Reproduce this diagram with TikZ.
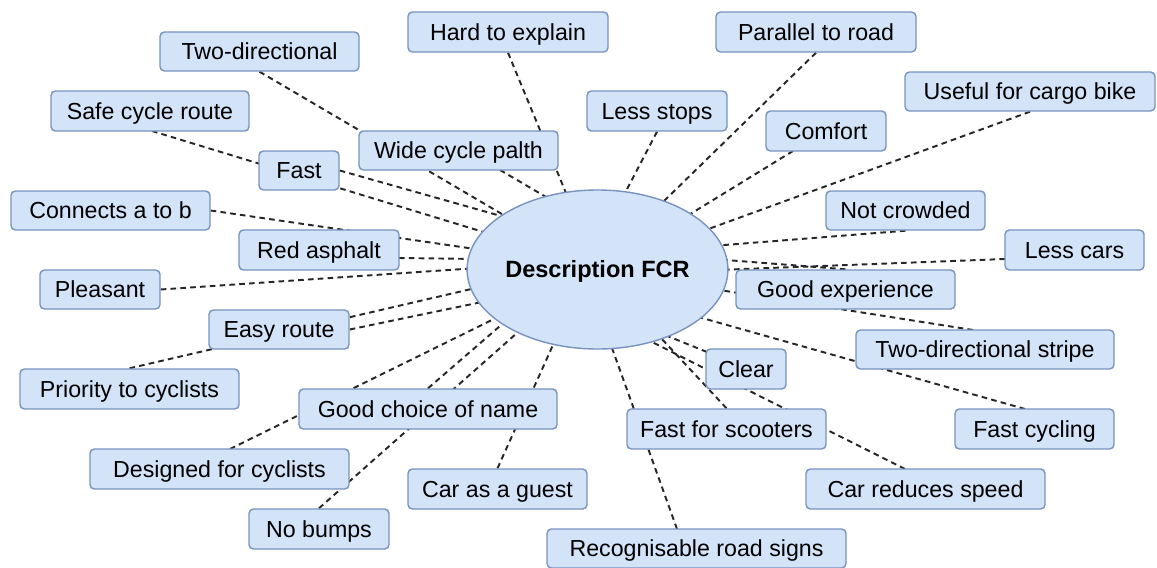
\documentclass[tikz,border=0pt]{standalone}
\usepackage{fontspec}
\setmainfont{Liberation Sans}
\usetikzlibrary{calc,shapes.geometric}
\definecolor{boxfill}{HTML}{D3E3F8}
\definecolor{boxline}{HTML}{7893C0}
\definecolor{linkc}{HTML}{262626}
\pgfdeclarelayer{bg}
\pgfsetlayers{bg,main}
\newcommand\bx[6]{\node[box, minimum width={(#4-#2)*0.02cm}, minimum height={(#5-#3)*0.02cm}] (#1) at ({(#2+#4)/2},{(#3+#5)/2}) {#6};}
\begin{document}
\begin{tikzpicture}[x=0.02cm,y=-0.02cm,
  box/.style={draw=boxline, fill=boxfill, line width=0.8pt, rounded corners=2.5pt,
    font=\fontsize{13.2}{15}\selectfont, text=black, inner sep=0pt,
    text height=11pt, text depth=1.55pt},
  hub/.style={ellipse, draw=boxline, fill=boxfill, line width=0.8pt, inner sep=0pt,
    font=\bfseries\fontsize{13.4}{15}\selectfont, text=black,
    text height=11pt, text depth=1.5pt},
  link/.style={draw=linkc, line width=1.1pt, dash pattern=on 3.2pt off 2.4pt}]
\useasboundingbox (0,0) rectangle (1157,568);
\node[hub, minimum width=239*0.02cm, minimum height=159*0.02cm] (fcr) at (597.5,269.5) {Description FCR};
\bx{two}{160}{32}{359}{71}{Two-directional}
\bx{safe}{51}{91}{249}{131}{Safe cycle route}
\bx{fast}{259}{151}{339}{190}{Fast}
\bx{connects}{11}{191}{210}{230}{Connects a to b}
\bx{red}{239}{230}{399}{270}{Red asphalt}
\bx{pleasant}{40}{270}{160}{309}{Pleasant}
\bx{easy}{209}{310}{349}{349}{Easy route}
\bx{priority}{20}{369}{239}{409}{Priority to cyclists}
\bx{goodchoice}{299}{389}{557}{429}{Good choice of name}
\bx{designed}{90}{449}{349}{489}{Designed for cyclists}
\bx{nobumps}{249}{509}{389}{549}{No bumps}
\bx{guest}{408}{469}{587}{509}{Car as a guest}
\bx{recog}{547}{529}{846}{568}{Recognisable road signs}
\bx{scooters}{627}{409}{826}{449}{Fast for scooters}
\bx{clear}{706}{349}{786}{389}{Clear}
\bx{carreduce}{806}{469}{1045}{509}{Car reduces speed}
\bx{fastcycling}{955}{409}{1114}{449}{Fast cycling}
\bx{stripe}{856}{330}{1114}{369}{Two-directional stripe}
\bx{goodexp}{736}{270}{955}{309}{Good experience}
\bx{lesscars}{1005}{230}{1144}{270}{Less cars}
\bx{notcrowded}{826}{191}{985}{230}{Not crowded}
\bx{cargo}{905}{72}{1155}{111}{Useful for cargo bike}
\bx{comfort}{766}{111}{886}{151}{Comfort}
\bx{parallel}{716}{12}{916}{52}{Parallel to road}
\bx{lessstops}{587}{91}{727}{131}{Less stops}
\bx{hard}{408}{12}{608}{52}{Hard to explain}
\bx{wide}{359}{131}{558}{170}{Wide cycle palth}
\begin{pgfonlayer}{bg}
\draw[link] (two.south) -- ($(fcr)+(-90.5,-52.5)$);
\draw[link] ($(safe)+(2,20)$) -- ($(fcr)+(-107.5,-35.5)$);
\draw[link] (fast.east) -- ($(fcr)+(-89.5,-51.5)$);
\draw[link] (connects.east) -- ($(fcr)+(-115.5,-19.5)$);
\draw[link] ($(red)+(80,8)$) -- ($(fcr)+(-118.5,-10.5)$);
\draw[link] (pleasant.east) -- ($(fcr)+(-119.5,-1.5)$);
\draw[link] (easy.east) -- ($(fcr)+(-115.5,32.5)$);
\draw[link] (priority.north) -- ($(fcr)+(-117.5,17.5)$);
\draw[link] (goodchoice.north) -- ($(fcr)+(-97.5,56.5)$);
\draw[link] ($(designed)+(10.5,-20)$) -- ($(fcr)+(-97.5,46.5)$);
\draw[link] (nobumps.north) -- ($(fcr)+(-80.5,63.5)$);
\draw[link] (guest.north) -- ($(fcr)+(-44.5,75.5)$);
\draw[link] ($(recog)+(-19.5,-19.5)$) -- ($(fcr)+(14.5,78.5)$);
\draw[link] (scooters.north) -- ($(fcr)+(62.5,67.5)$);
\draw[link] ($(clear)+(-39,-17)$) -- ($(fcr)+(67.5,65.5)$);
\draw[link] ($(carreduce)+(-20.5,-20)$) -- ($(fcr)+(52.5,71.5)$);
\draw[link] ($(fastcycling)+(-9.5,-20)$) -- ($(fcr)+(97.5,46.5)$);
\draw[link] ($(stripe)+(-12,-19.5)$) -- ($(fcr)+(115.5,19.5)$);
\draw[link] (goodexp.north) -- ($(fcr)+(115.5,-10.5)$);
\draw[link] ($(lesscars)+(-69.5,9)$) -- ($(fcr)+(119.5,0.5)$);
\draw[link] (notcrowded.south) -- ($(fcr)+(114.5,-23.5)$);
\draw[link] (cargo.south) -- ($(fcr)+(105.5,-38.5)$);
\draw[link] ($(comfort)+(-33,20)$) -- ($(fcr)+(89.5,-53.5)$);
\draw[link] (parallel.south) -- ($(fcr)+(65.5,-67.5)$);
\draw[link] (lessstops.south) -- ($(fcr)+(27.5,-76.5)$);
\draw[link] (hard.south) -- ($(fcr)+(-31.5,-76.5)$);
\draw[link] ($(wide)+(41.5,19.5)$) -- ($(fcr)+(-51.5,-72.5)$);
\end{pgfonlayer}
\end{tikzpicture}
\end{document}
